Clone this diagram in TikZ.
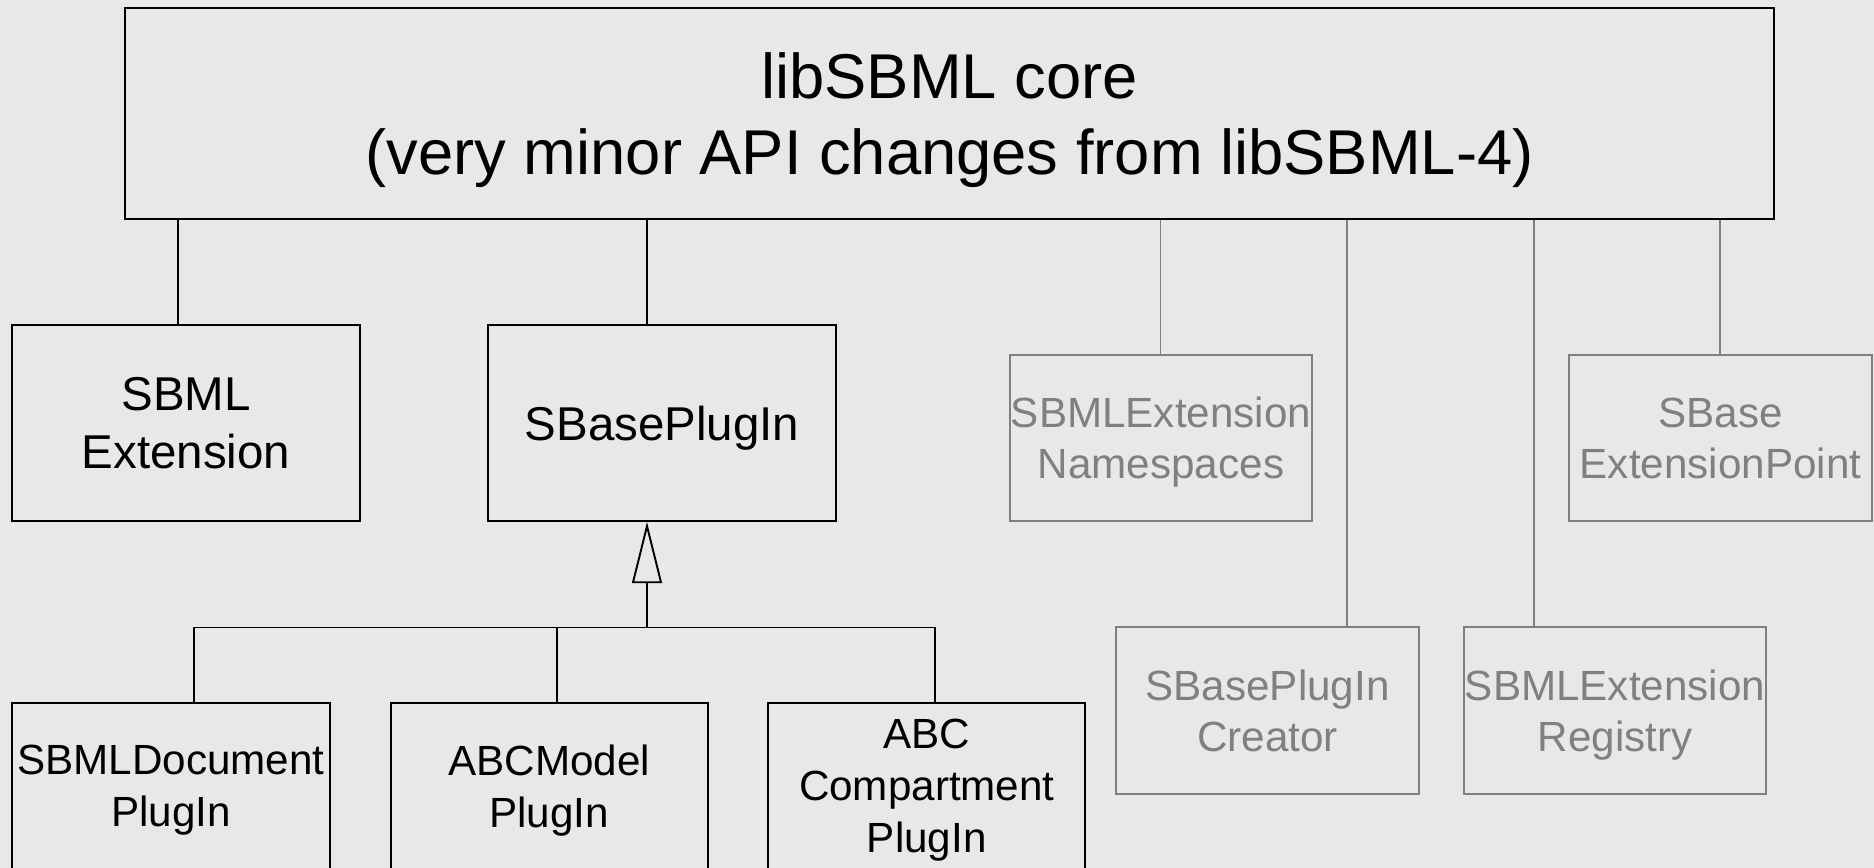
\documentclass[tikz,border=0pt]{standalone}
\usepackage{fontspec}
\setmainfont{Liberation Sans}
\usetikzlibrary{arrows.meta}
\definecolor{bgcol}{RGB}{232,232,232}
\definecolor{pale}{RGB}{128,128,128}

\begin{document}
\begin{tikzpicture}
        [%%%%%%%%%%%%%%%%%%%%%%%%%%%%%%
        x=0.01cm, y=-0.01cm,
        box/.style={rectangle,draw=black,line width=0.55pt,inner sep=0pt,align=center,text depth=0pt},
        midbox/.style={box,minimum height=1.96cm,font=\fontsize{13.5}{16.7}\selectfont},
        lowbox/.style={box,minimum width=3.17cm,minimum height=1.66cm,font=\fontsize{12}{14.8}\selectfont},
        palebox/.style={box,draw=pale,text=pale,minimum width=3.02cm,minimum height=1.66cm,font=\fontsize{12}{14.5}\selectfont},
        ]%%%%%%%%%%%%%%%%%%%%%%%%%%%%%%

        \clip (0,0) rectangle (1874,868);
        \fill[bgcol] (0,0) rectangle (1874,868);

        \node[box,minimum width=16.48cm,minimum height=2.10cm,font=\fontsize{18}{21.4}\selectfont]
          (core) at (949.6,113.5) {libSBML core\\(very minor API changes from libSBML-4)};

        \node[midbox,minimum width=3.48cm] (ext) at (186,423) {SBML\\Extension};
        \node[midbox,minimum width=3.47cm] (plug) at (662,423) {SBasePlugIn};

        \node[palebox] (ns) at (1161,438) {SBMLExtension\\Namespaces};
        \node[palebox] (point) at (1720.5,438) {SBase\\ExtensionPoint};
        \node[palebox] (creator) at (1267.5,710.5) {SBasePlugIn\\Creator};
        \node[palebox] (reg) at (1615,710.5) {SBMLExtension\\Registry};

        \node[lowbox,minimum width=3.18cm] (doc) at (171,786) {SBMLDocument\\PlugIn};
        \node[lowbox] (model) at (549.3,786) {ABCModel\\PlugIn};
        \node[lowbox] (comp) at (926.8,786) {ABC\\Compartment\\PlugIn};

        % links to the core
        \foreach \n/\x in {ext/178,plug/647}
          \draw[line width=0.55pt] (core.south -| \x,0) -- (\n.north -| \x,0);
        \foreach \n/\x in {ns/1160.5,creator/1347,reg/1533.5,point/1720}
          \draw[pale,line width=0.55pt] (core.south -| \x,0) -- (\n.north -| \x,0);

        % inheritance
        \coordinate (bar) at (647,627.5);
        \draw[line width=0.55pt,-{Triangle[open,width=8.5pt,length=17.4pt,fill=bgcol]}]
          (bar) -- (plug.south -| bar);
        \draw[line width=0.55pt] (doc.north -| 193.6,0) -- (bar -| 193.6,0)
          -- (bar -| 934.6,0) -- (comp.north -| 934.6,0);
        \draw[line width=0.55pt] (model.north -| 557,0) -- (bar -| 557,0);

      \end{tikzpicture}
\end{document}
